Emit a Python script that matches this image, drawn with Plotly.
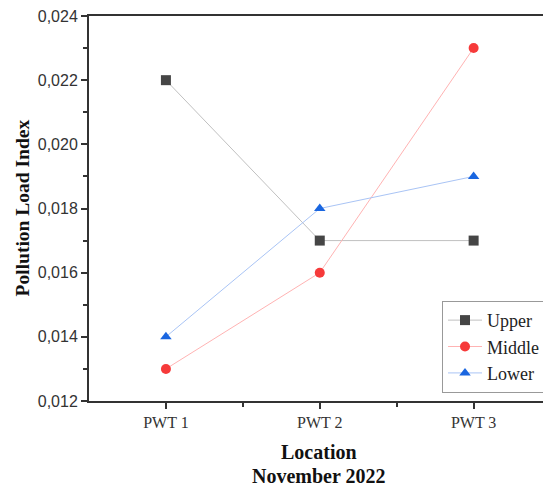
import plotly.graph_objects as go

locations = ["PWT 1", "PWT 2", "PWT 3"]
upper = [0.022, 0.017, 0.017]
middle = [0.013, 0.016, 0.023]
lower = [0.014, 0.018, 0.019]
y_ticks = [0.012, 0.014, 0.016, 0.018, 0.020, 0.022, 0.024]

xpos = [1, 2, 3]
fig = go.Figure()
series = [
    ("Upper", upper, "#454545", "#c0c0c0", "square"),
    ("Middle", middle, "#f63a3a", "#ffb3b3", "circle"),
    ("Lower", lower, "#1a66e0", "#a9c4f5", "triangle-up"),
]
for name, vals, mc, lc, sym in series:
    fig.add_trace(go.Scatter(
        x=xpos, y=vals, name=name, mode="lines+markers",
        line=dict(color=lc, width=1),
        marker=dict(color=mc, size=10, symbol=sym, line=dict(width=0)),
    ))

serif = "Liberation Serif"
fig.update_layout(
    width=543, height=478,
    margin=dict(l=81, r=0, t=8, b=85),
    plot_bgcolor="white", paper_bgcolor="white",
    separators=",.",
    showlegend=True,
    legend=dict(
        x=0.9935, xanchor="right", y=0.021, yanchor="bottom",
        bordercolor="#999", borderwidth=1, bgcolor="white",
        font=dict(family=serif, size=18, color="#222"),
        itemwidth=34, tracegroupgap=0,
    ),
    annotations=[
        dict(text="<b>Location</b>", xref="paper", yref="paper", x=0.5, y=-0.1325,
             showarrow=False, font=dict(family=serif, size=20, color="#111"),
             xanchor="center", yanchor="middle"),
        dict(text="<b>November 2022</b>", xref="paper", yref="paper", x=0.5, y=-0.195,
             showarrow=False, font=dict(family=serif, size=20, color="#111"),
             xanchor="center", yanchor="middle"),
        dict(text="<b>Pollution Load Index</b>", xref="paper", yref="paper", x=-0.145, y=0.501,
             showarrow=False, textangle=-90, font=dict(family=serif, size=19.5, color="#111"),
             xanchor="center", yanchor="middle"),
    ],
)
fig.update_xaxes(
    range=[0.5, 3.49], tickmode="array", tickvals=xpos, ticktext=locations,
    showgrid=False, zeroline=False,
    showline=True, linecolor="#333", linewidth=2, mirror=True,
    ticks="outside", ticklen=6, tickcolor="#333", tickwidth=1.5,
    minor=dict(tickvals=[1.5, 2.5], ticks="outside", ticklen=4, tickcolor="#333"),
    tickfont=dict(family=serif, size=16, color="#333"),
)
fig.update_yaxes(
    range=[0.012, 0.024], tickmode="array", tickvals=y_ticks, tickformat=".3f",
    showgrid=False, zeroline=False,
    showline=True, linecolor="#333", linewidth=2, mirror=True,
    ticks="outside", ticklen=6, tickcolor="#333", tickwidth=1.5,
    minor=dict(dtick=0.001, ticks="outside", ticklen=4, tickcolor="#333"),
    tickfont=dict(family="Liberation Sans", size=16, color="#333"),
    ticklabeloverflow="allow",
)
fig.write_html("out.html")
